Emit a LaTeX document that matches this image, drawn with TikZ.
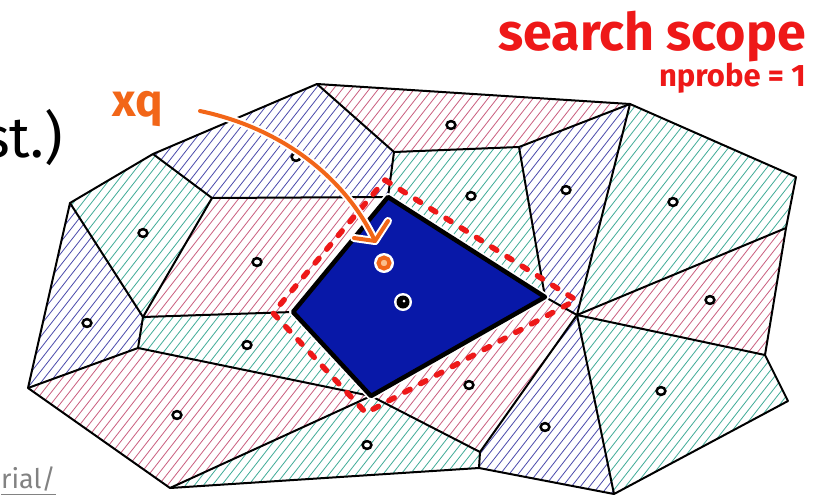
\documentclass[tikz,border=0pt]{standalone}
\usepackage{fontspec}
\setmainfont{Fira Sans}
\definecolor{hblue}{RGB}{75,75,172}
\definecolor{hpink}{RGB}{202,95,128}
\definecolor{hteal}{RGB}{65,172,152}
\definecolor{cellblue}{RGB}{8,24,168}
\definecolor{scopered}{RGB}{238,24,24}
\definecolor{qorange}{RGB}{242,102,24}
\definecolor{qlight}{RGB}{250,190,140}
\definecolor{urlgrey}{RGB}{130,130,130}
\tikzset{
  hatchline/.style={draw=#1,line width=0.8pt},
  cellline/.style={draw=black,line width=2pt,line join=round},
  seed/.style={draw=black,line width=2.5pt,fill=white},
  scopeline/.style={draw=scopered,line width=5.5pt,dash pattern=on 6pt off 12pt,line cap=round,line join=round},
  qarrow/.style={draw=qorange,line width=4pt,line cap=round,line join=round},
}
\newcommand{\hatchall}[1]{\foreach \c in {-420,-411,...,830} \draw[hatchline=#1] (\c,500) -- (\c+391,0);}
\begin{document}
\begin{tikzpicture}[x=1pt,y=-1pt]
\useasboundingbox (0,0) rectangle (822,496);
\fill[white] (0,0) rectangle (822,496);
% outer vertices
\coordinate (A) at (70,203);
\coordinate (P1) at (153,154);
\coordinate (P2) at (317,84);
\coordinate (P3) at (394,152);
\coordinate (P4) at (519,147);
\coordinate (P5) at (630,104);
\coordinate (P6) at (796,177);
\coordinate (P7) at (786,228);
\coordinate (P8) at (765,355);
\coordinate (P9) at (788,401);
\coordinate (P10) at (614,494);
\coordinate (P11) at (479,468);
\coordinate (P12) at (170,488);
\coordinate (P13) at (28,388);
% inner vertices
\coordinate (Q1) at (212,198);
\coordinate (T) at (388,197);
\coordinate (R) at (545,297);
\coordinate (J) at (577,315);
\coordinate (L) at (293,312);
\coordinate (B) at (371,396);
\coordinate (Q2) at (143,317);
\coordinate (Q3) at (138,348);
\coordinate (Q4) at (480,452);
% hatched cells: blue
\begin{scope}
\clip (P1)--(P2)--(P3)--(T)--(Q1)--cycle
      (P4)--(P5)--(J)--(R)--cycle
      (J)--(P10)--(P11)--(Q4)--cycle
      (A)--(Q2)--(Q3)--(P13)--cycle;
\hatchall{hblue}
\end{scope}
% hatched cells: pink
\begin{scope}
\clip (P2)--(P5)--(P4)--(P3)--cycle
      (J)--(P7)--(P8)--cycle
      (R)--(J)--(Q4)--(B)--cycle
      (P13)--(Q3)--(B)--(P12)--cycle
      (Q1)--(T)--(L)--(Q2)--cycle;
\hatchall{hpink}
\end{scope}
% hatched cells: teal
\begin{scope}
\clip (P3)--(P4)--(R)--(T)--cycle
      (P5)--(P6)--(P7)--(J)--cycle
      (J)--(P8)--(P9)--(P10)--cycle
      (B)--(Q4)--(P11)--(P12)--cycle
      (Q2)--(L)--(B)--(Q3)--cycle
      (A)--(P1)--(Q1)--(Q2)--cycle;
\hatchall{hteal}
\end{scope}
% cell edges
\draw[cellline] (A)--(P1)--(P2)--(P5)--(P6)--(P7)--(P8)--(P9)--(P10)--(P11)--(P12)--(P13)--cycle;
\draw[cellline] (P1)--(Q1)--(T);
\draw[cellline] (P2)--(P3)--(T);
\draw[cellline] (P3)--(P4)--(R)--(J);
\draw[cellline] (P4)--(P5)--(J)--(P7);
\draw[cellline] (J)--(P8);
\draw[cellline] (J)--(P10);
\draw[cellline] (J)--(Q4)--(P11);
\draw[cellline] (B)--(Q4);
\draw[cellline] (B)--(P12);
\draw[cellline] (B)--(Q3)--(P13);
\draw[cellline] (Q3)--(Q2)--(L);
\draw[cellline] (Q1)--(Q2)--(A);
% seeds
\foreach \p in {(296,157),(451,125),(471,196),(566,190),(673,202),(710,300),(661,391),(545,427),(469,385),(367,445),(177,415),(247,345),(257,262),(143,233),(87,323)}
  \draw[seed] \p ellipse [x radius=4.4pt,y radius=3.9pt];
% selected cell
\draw[white,line width=8pt,line join=round] (T)--(R)--(B)--(L)--cycle;
\fill[cellblue] (T)--(R)--(B)--(L)--cycle;
\draw[black,line width=4.5pt,line join=round] (T)--(R)--(B)--(L)--cycle;
% search scope
\coordinate (D1) at (385,180);
\coordinate (D2) at (576,300);
\coordinate (D3) at (366,413);
\coordinate (D4) at (273,313);
\draw[scopeline] (D1)--(D2)--(D3)--(D4)--cycle;
% centroid of selected cell
\fill[white] (403,302) circle (9pt);
\fill[black] (403,302) circle (6.5pt);
\fill[white] (404,301) circle (1.5pt);
% query point
\fill[white] (384,263) circle (10pt);
\draw[qorange,line width=4pt,fill=qlight] (384,263) circle (5.5pt);
% texts
\node[anchor=base east,text=scopered,font=\bfseries\fontsize{52}{52}\selectfont,inner sep=0pt] (title) at (806,50) {search scope};
\node[anchor=base east,text=scopered,font=\bfseries\fontsize{31}{31}\selectfont,inner sep=0pt] (np) at (806,86) {nprobe = 1};
\node[anchor=base west,text=qorange,font=\bfseries\fontsize{46}{46}\selectfont,inner sep=0pt] (xq) at (112,116) {xq};
\node[anchor=base east,font=\fontsize{57}{57}\selectfont,inner sep=0pt] (st) at (63,157) {st.)};
\node[anchor=base west,text=urlgrey,font=\fontsize{27}{27}\selectfont,inner sep=0pt] (url) at (1,488) {rial/};
\draw[urlgrey,line width=1.5pt] ([yshift=-6.5pt]url.base west) -- ([yshift=-6.5pt]url.base east);
% arrow from xq
\coordinate (AS) at (200,111);
\coordinate (AE) at (375,241);
\coordinate (AL) at (354,238);
\coordinate (AR) at (388,221);
\draw[white,line width=8pt,line cap=round] (AS) .. controls (290,130) and (349,185) .. (AE);
\draw[white,line width=8pt,line cap=round,line join=round] (AL) -- (AE) -- (AR);
\draw[qarrow] (AS) .. controls (290,130) and (349,185) .. (AE);
\draw[qarrow] (AL) -- (AE) -- (AR);
\end{tikzpicture}
\end{document}
